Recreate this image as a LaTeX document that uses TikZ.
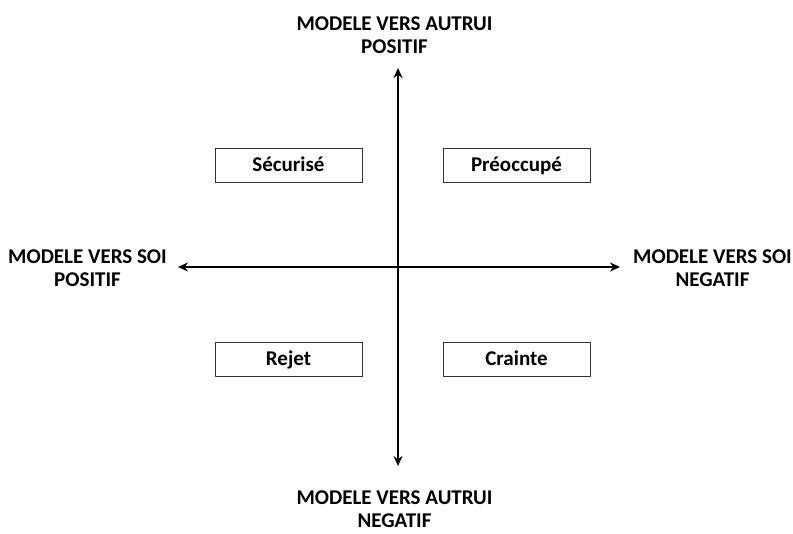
\documentclass[tikz,border=0pt]{standalone}
\usepackage{fontspec}
\setmainfont{Carlito}
\usetikzlibrary{arrows.meta}

\begin{document}
\begin{tikzpicture}[x=1pt,y=1pt,
    axe/.style={line width=2pt, {Stealth[length=10pt,width=9pt]}-{Stealth[length=10pt,width=9pt]}},
    style/.style={draw=black!80, line width=0.8pt, minimum width=147pt, minimum height=34pt, inner sep=0pt, text height=13.5pt, text depth=0pt, font=\fontsize{21}{23}\selectfont\bfseries},
    titre/.style={align=center, inner sep=0pt, font=\fontsize{21}{23}\selectfont\bfseries}]
  \useasboundingbox (0,0) rectangle (793,534);

  % axes
  \coordinate (haut) at (398,466);
  \coordinate (bas) at (398,68);
  \coordinate (gauche) at (178,267);
  \coordinate (droite) at (620,267);
  \draw[axe] (bas) -- (haut);
  \draw[axe] (gauche) -- (droite);

  % styles d'attachement
  \node[style] (secur) at (288.5,369) {Sécurisé};
  \node[style] (preoc) at (516.5,369) {Préoccupé};
  \node[style] (rejet) at (288.5,175) {Rejet};
  \node[style] (crainte) at (516.5,175) {Crainte};

  \node[titre] (autruipos) at (394.5,499) {MODELE VERS AUTRUI\\POSITIF};
  \node[titre] (autruineg) at (394.5,24.5) {MODELE VERS AUTRUI\\NEGATIF};
  \node[titre] (soipos) at (87.5,266) {MODELE VERS SOI\\POSITIF};
  \node[titre] (soineg) at (712.5,266) {MODELE VERS SOI\\NEGATIF};

\end{tikzpicture}
\end{document}
